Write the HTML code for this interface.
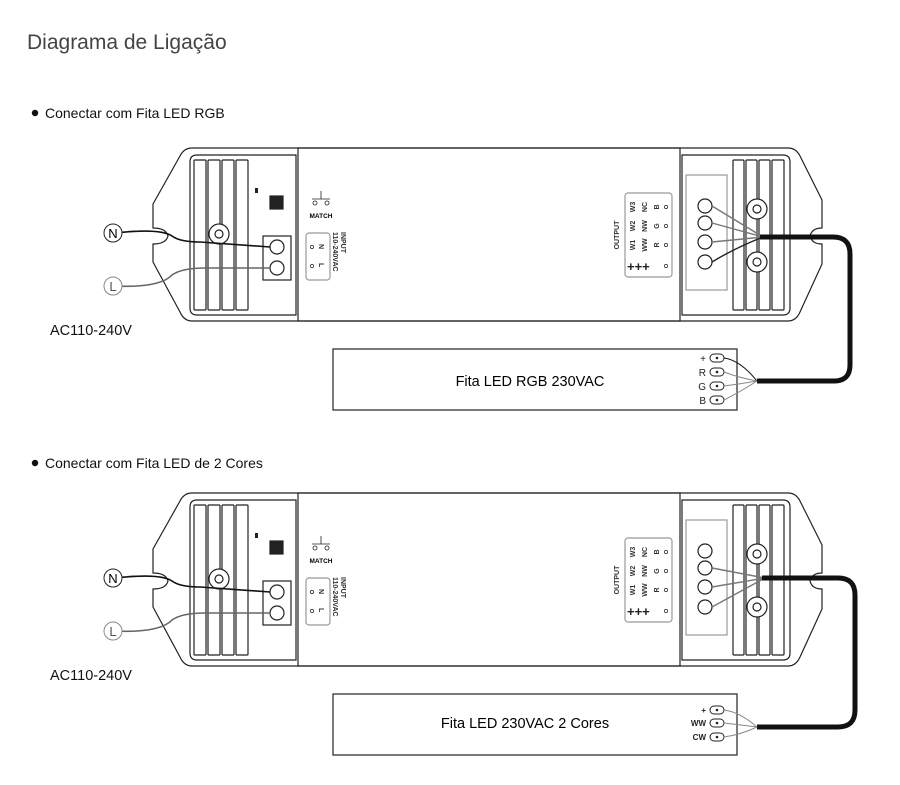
<!DOCTYPE html>
<html><head><meta charset="utf-8"><style>
html,body{margin:0;padding:0;background:#fff;}
svg{display:block;font-family:"Liberation Sans",sans-serif;}
</style></head><body>
<svg width="900" height="785" viewBox="0 0 900 785" xmlns="http://www.w3.org/2000/svg">
<defs>
<g id="ctrl" fill="none" stroke="#222" stroke-width="1.2">
  <path d="M192 148 L788 148 Q796 148 800 156 L822 200 L822 228 Q812 228 810 236 Q812 244 822 244 L822 264 L800 312 Q796 321 788 321 L192 321 Q184 321 180 312 L153 262 L153 244 Q166 244 168 236 Q166 228 153 228 L153 204 L180 156 Q184 148 192 148 Z" fill="#fff"/>
  <path d="M197 155 L296 155 L296 315 L197 315 Q190 315 190 308 L190 162 Q190 155 197 155 Z"/>
  <rect x="298" y="148" width="382" height="173"/>
  <path d="M682 155 L783 155 Q790 155 790 162 L790 308 Q790 315 783 315 L682 315 Z"/>
  <rect x="194" y="160" width="12" height="150" rx="1"/>
  <rect x="208" y="160" width="12" height="150" rx="1"/>
  <rect x="222" y="160" width="12" height="150" rx="1"/>
  <rect x="236" y="160" width="12" height="150" rx="1"/>
  <rect x="733" y="160" width="11" height="150" rx="1"/>
  <rect x="746" y="160" width="11" height="150" rx="1"/>
  <rect x="759" y="160" width="11" height="150" rx="1"/>
  <rect x="772" y="160" width="12" height="150" rx="1"/>
  <circle cx="219" cy="234" r="10" fill="#fff"/><circle cx="219" cy="234" r="4"/>
  <circle cx="757" cy="209" r="10" fill="#fff"/><circle cx="757" cy="209" r="4"/>
  <circle cx="757" cy="262" r="10" fill="#fff"/><circle cx="757" cy="262" r="4"/>
  <rect x="263" y="236" width="28" height="44" fill="#fff"/>
  <circle cx="277" cy="247" r="7"/><circle cx="277" cy="268" r="7"/>
  <rect x="270" y="196" width="13" height="13" fill="#222"/>
  <rect x="255" y="188" width="3" height="5" fill="#222" stroke="none"/>
  <line x1="312" y1="199" x2="330" y2="199" stroke-width="0.8"/>
  <line x1="321" y1="191" x2="321" y2="199" stroke-width="0.8"/>
  <circle cx="315" cy="203" r="2" stroke-width="0.8"/><circle cx="327" cy="203" r="2" stroke-width="0.8"/>
  <rect x="306" y="233" width="24" height="47" rx="3" stroke="#999"/>
  <circle cx="312" cy="247" r="1.6" stroke-width="0.7"/><circle cx="312" cy="266" r="1.6" stroke-width="0.7"/>
  <rect x="686" y="175" width="41" height="115" stroke="#999"/>
  <circle cx="705" cy="206" r="7"/><circle cx="705" cy="223" r="7"/>
  <circle cx="705" cy="242" r="7"/><circle cx="705" cy="262" r="7"/>
  <rect x="625" y="193" width="47" height="84" rx="3" stroke="#999"/>
  <g stroke-width="0.7"><circle cx="666" cy="207" r="1.6"/><circle cx="666" cy="226" r="1.6"/><circle cx="666" cy="245" r="1.6"/><circle cx="666" cy="266" r="1.6"/></g>
</g>
<g id="inwires" fill="none">
  <path d="M115 233 Q160 228 172 236 Q180 242 200 242 L270 247" stroke="#111" stroke-width="1.6"/>
  <path d="M115 286 Q160 288 172 275 Q182 268 205 268 L270 268" stroke="#666" stroke-width="1.6"/>
</g>
<g id="labels">
<text x="321" y="218" font-size="6.5" font-weight="bold" text-anchor="middle">MATCH</text>
<g font-size="7" font-weight="bold" fill="#333">
  <text transform="translate(341,232) rotate(90)">INPUT</text>
  <text transform="translate(333,232) rotate(90)">110-240VAC</text>
  <text transform="translate(319,244) rotate(90)">N</text>
  <text transform="translate(319,263) rotate(90)">L</text>
</g>
<g font-size="7" font-weight="bold" fill="#333" text-anchor="middle">
  <text transform="translate(619,235) rotate(-90)">OUTPUT</text>
  <text transform="translate(635,207) rotate(-90)">W3</text><text transform="translate(635,226) rotate(-90)">W2</text><text transform="translate(635,245) rotate(-90)">W1</text>
  <text transform="translate(647,207) rotate(-90)">NC</text><text transform="translate(647,226) rotate(-90)">NW</text><text transform="translate(647,245) rotate(-90)">WW</text>
  <text transform="translate(659,207) rotate(-90)">B</text><text transform="translate(659,226) rotate(-90)">G</text><text transform="translate(659,245) rotate(-90)">R</text>
</g>
<text x="627" y="271" font-size="13" font-weight="bold" fill="#222">+++</text>
</g>
</defs>

<text x="27" y="49" font-size="21" fill="#444">Diagrama de Ligação</text>

<circle cx="35" cy="113" r="3.2" fill="#111"/>
<text x="45" y="118" font-size="14" fill="#111">Conectar com Fita LED RGB</text>
<use href="#ctrl"/>
<use href="#inwires"/>
<use href="#labels"/>
<circle cx="113" cy="233" r="9" fill="#fff" stroke="#222"/><text x="113" y="238" font-size="13" text-anchor="middle">N</text>
<circle cx="113" cy="286" r="9" fill="#fff" stroke="#888"/><text x="113" y="291" font-size="13" text-anchor="middle" fill="#555">L</text>
<text x="50" y="335" font-size="14.5" fill="#111">AC110-240V</text>
<path d="M712 206 L763 237 M712 223 L763 237 M712 242 L763 237" stroke="#777" stroke-width="1.4" fill="none"/>
<path d="M712 262 Q735 248 763 237" stroke="#222" stroke-width="1.4" fill="none"/>
<path d="M760 237 L833 237 Q850 237 850 254 L850 365 Q850 381 834 381 L757 381" stroke="#111" stroke-width="5" fill="none"/>
<rect x="333" y="349" width="404" height="61" fill="#fff" stroke="#222" stroke-width="1.2"/>
<text x="530" y="386" font-size="14.5" text-anchor="middle">Fita LED RGB 230VAC</text>
<g stroke="#222" fill="none" stroke-width="1">
  <rect x="710" y="354" width="14" height="8" rx="4"/><rect x="710" y="368" width="14" height="8" rx="4"/>
  <rect x="710" y="382" width="14" height="8" rx="4"/><rect x="710" y="396" width="14" height="8" rx="4"/>
  <path d="M724 358 Q740 360 757 381" stroke="#111"/>
  <path d="M724 372 Q740 378 757 381 M724 386 Q740 384 757 381 M724 400 Q740 392 757 381" stroke="#888"/>
</g>
<g fill="#222"><circle cx="717" cy="358" r="1.3"/><circle cx="717" cy="372" r="1.3"/><circle cx="717" cy="386" r="1.3"/><circle cx="717" cy="400" r="1.3"/></g>
<g font-size="10" text-anchor="end" fill="#222"><text x="706" y="362">+</text><text x="706" y="376">R</text><text x="706" y="390">G</text><text x="706" y="404">B</text></g>

<circle cx="35" cy="463" r="3.2" fill="#111"/>
<text x="45" y="468" font-size="14" fill="#111">Conectar com Fita LED de 2 Cores</text>
<g transform="translate(0,345)">
<use href="#ctrl"/>
<use href="#inwires"/>
<use href="#labels"/>
<circle cx="113" cy="233" r="9" fill="#fff" stroke="#222"/><text x="113" y="238" font-size="13" text-anchor="middle">N</text>
<circle cx="113" cy="286" r="9" fill="#fff" stroke="#888"/><text x="113" y="291" font-size="13" text-anchor="middle" fill="#555">L</text>
<text x="50" y="335" font-size="14.5" fill="#111">AC110-240V</text>
<path d="M712 223 L765 233 M712 242 L765 233 M712 262 L765 233" stroke="#777" stroke-width="1.4" fill="none"/>
<path d="M762 233 L838 233 Q855 233 855 250 L855 365 Q855 382 838 382 L757 382" stroke="#111" stroke-width="5" fill="none"/>
</g>
<rect x="333" y="694" width="404" height="61" fill="#fff" stroke="#222" stroke-width="1.2"/>
<text x="525" y="728" font-size="14.5" text-anchor="middle">Fita LED 230VAC 2 Cores</text>
<g stroke="#222" fill="none" stroke-width="1">
  <rect x="710" y="706" width="14" height="8" rx="4"/><rect x="710" y="719" width="14" height="8" rx="4"/>
  <rect x="710" y="733" width="14" height="8" rx="4"/>
  <path d="M724 710 Q740 712 757 727 M724 723 Q740 725 757 727 M724 737 Q740 735 757 727" stroke="#888"/>
</g>
<g fill="#222"><circle cx="717" cy="710" r="1.3"/><circle cx="717" cy="723" r="1.3"/><circle cx="717" cy="737" r="1.3"/></g>
<g font-size="8" font-weight="bold" text-anchor="end" fill="#222"><text x="706" y="713">+</text><text x="706" y="726">WW</text><text x="706" y="740">CW</text></g>
</svg>
</body></html>
